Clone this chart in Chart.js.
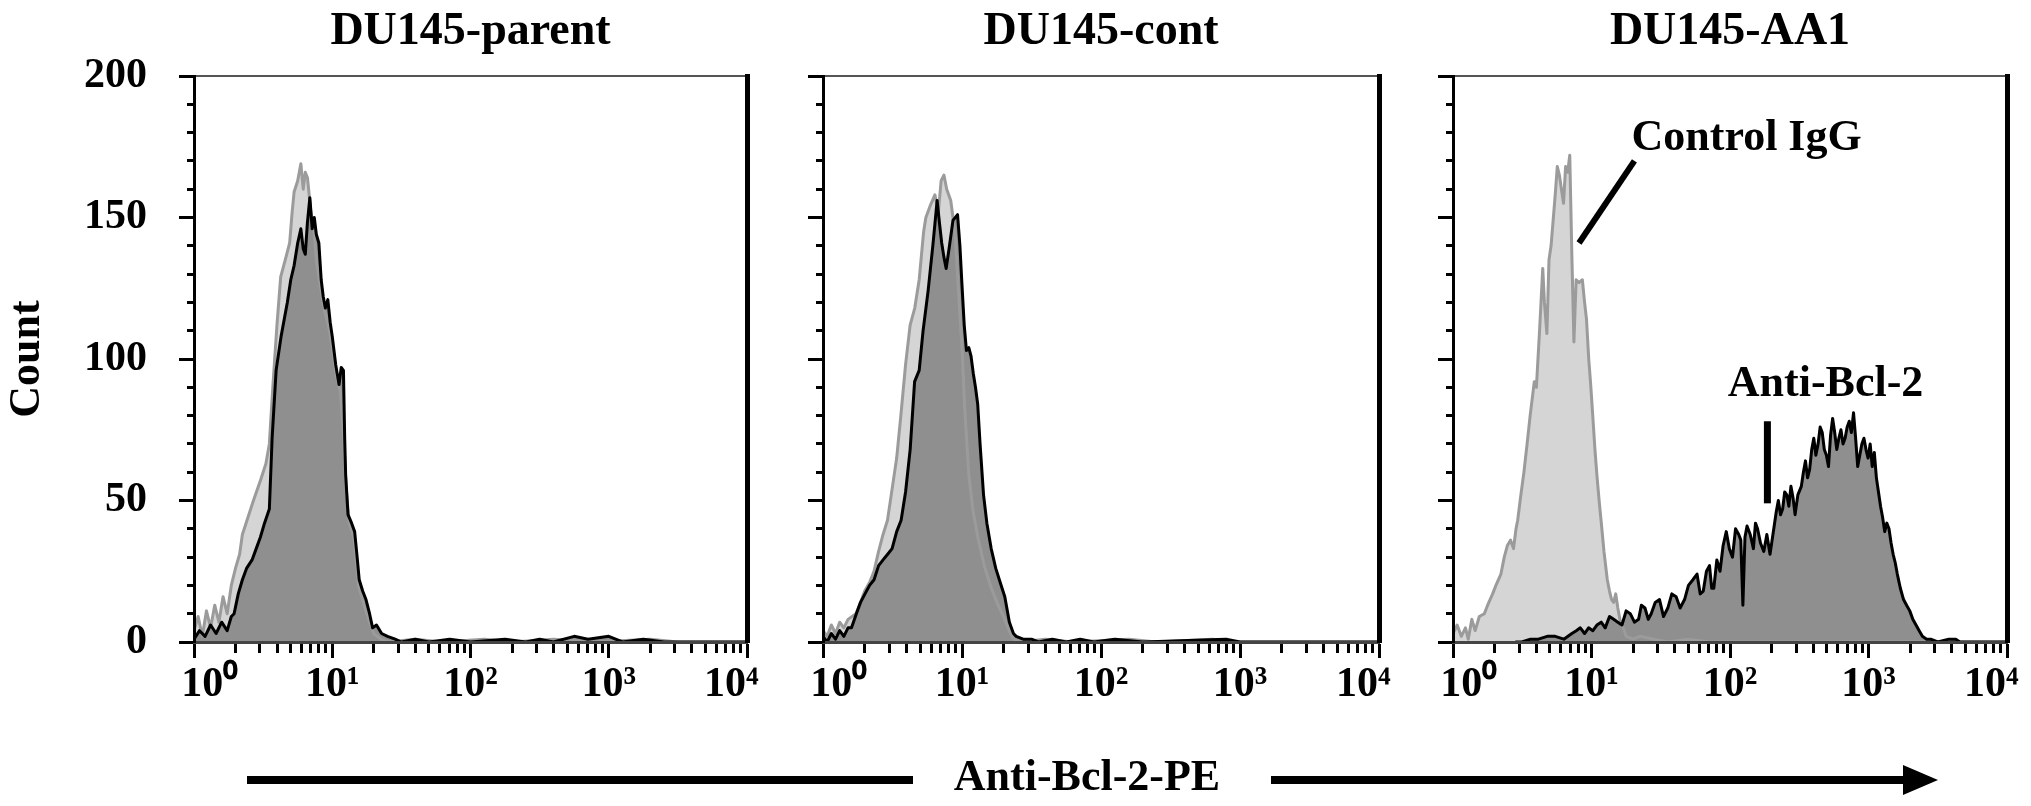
<!DOCTYPE html>
<html>
<head>
<meta charset="utf-8">
<script src="https://cdn.jsdelivr.net/npm/chart.js@4.4.1/dist/chart.umd.min.js"></script>
<style>
  body { margin: 0; background: #fff; }
  #wrap { position: relative; width: 2031px; height: 806px; overflow: hidden; background: #fff; }
  #wrap canvas, #wrap svg { position: absolute; top: 0; }
</style>
</head>
<body>
<div id="wrap">
  <canvas id="parent" width="770" height="806" style="left:0px"></canvas>
  <canvas id="cont" width="630" height="806" style="left:770px"></canvas>
  <canvas id="aa1" width="631" height="806" style="left:1400px"></canvas>
  <svg width="2031" height="806" style="left:0px">
    <line x1="247" y1="780" x2="913" y2="780" stroke="#000" stroke-width="8"/>
    <line x1="1271" y1="780" x2="1908" y2="780" stroke="#000" stroke-width="8"/>
    <polygon points="1903,765 1938,780 1903,795" fill="#000"/>
    <text x="1087" y="790" text-anchor="middle" font-family="Liberation Serif, serif" font-weight="bold" font-size="44">Anti-Bcl-2-PE</text>
  </svg>
</div>
<script>
// histogram traces: [log10 intensity, count]
const parentBcl = [[0.00,1],[0.04,4],[0.08,2],[0.12,6],[0.16,3],[0.20,7],[0.24,4],[0.27,9],[0.29,10],[0.32,17],[0.35,22],[0.38,26],[0.42,29],[0.45,33],[0.48,37],[0.51,42],[0.545,47],[0.565,72],[0.594,96],[0.63,108],[0.675,120],[0.70,128],[0.724,133],[0.75,141],[0.773,146],[0.79,139],[0.805,137],[0.82,148],[0.838,157],[0.855,146],[0.87,150],[0.885,144],[0.903,141],[0.92,128],[0.935,122],[0.95,118],[0.968,121],[0.985,113],[1.0,108],[1.025,98],[1.049,91],[1.065,97],[1.081,96],[1.09,72],[1.097,59],[1.114,45],[1.14,42],[1.162,39],[1.18,30],[1.195,22],[1.22,18],[1.244,15],[1.27,10],[1.292,5],[1.32,6],[1.357,3],[1.40,2],[1.455,1],[1.50,0],[1.60,1],[1.70,0],[1.85,1],[2.00,0],[2.25,1],[2.40,0],[2.50,1],[2.60,0],[2.75,2],[2.85,1],[3.00,2],[3.10,0],[3.25,1],[3.40,0],[4.00,0]];
const parentIgG = [[0.00,4],[0.03,9],[0.06,2],[0.09,11],[0.12,5],[0.15,13],[0.18,7],[0.21,16],[0.24,10],[0.27,20],[0.30,26],[0.33,31],[0.35,38],[0.39,44],[0.43,50],[0.48,57],[0.52,63],[0.545,70],[0.57,90],[0.60,112],[0.627,129],[0.66,135],[0.692,141],[0.71,152],[0.724,159],[0.75,163],[0.773,169],[0.79,160],[0.805,166],[0.821,164],[0.845,152],[0.87,144],[0.885,135],[0.903,129],[0.92,124],[0.94,118],[0.96,114],[0.98,110],[1.0,104],[1.03,94],[1.06,88],[1.085,70],[1.10,55],[1.12,43],[1.16,36],[1.19,20],[1.23,13],[1.27,7],[1.30,3],[1.35,1],[1.40,0],[1.60,1],[1.80,0],[2.10,1],[2.30,0],[2.60,1],[2.90,0],[3.30,1],[3.50,0],[4.00,0]];

const contBcl = [[0.00,2],[0.03,0],[0.06,3],[0.09,1],[0.12,4],[0.15,2],[0.18,5],[0.205,5],[0.24,10],[0.27,14],[0.302,17],[0.335,20],[0.367,22],[0.40,27],[0.432,29],[0.465,31],[0.497,33],[0.53,39],[0.562,43],[0.594,53],[0.627,68],[0.659,92],[0.692,96],[0.72,110],[0.756,124],[0.79,140],[0.821,156],[0.838,148],[0.854,141],[0.87,136],[0.886,132],[0.91,140],[0.935,149],[0.968,151],[0.985,140],[1.0,126],[1.016,112],[1.032,103],[1.049,104],[1.065,101],[1.081,95],[1.097,90],[1.113,84],[1.13,70],[1.155,52],[1.179,42],[1.21,33],[1.243,26],[1.275,21],[1.308,16],[1.341,7],[1.37,3],[1.39,2],[1.44,1],[1.50,1],[1.55,0],[1.65,1],[1.75,0],[1.85,1],[1.95,0],[2.10,1],[2.30,0],[2.90,1],[3.00,0],[4.00,0]];
const contIgG = [[0.00,4],[0.03,2],[0.06,6],[0.09,3],[0.12,7],[0.15,5],[0.18,8],[0.237,10],[0.27,14],[0.30,18],[0.335,21],[0.367,25],[0.40,32],[0.432,38],[0.464,43],[0.50,55],[0.53,65],[0.56,80],[0.594,98],[0.627,112],[0.66,118],[0.692,128],[0.724,145],[0.74,150],[0.77,154],[0.805,158],[0.83,152],[0.85,163],[0.87,165],[0.89,160],[0.919,156],[0.951,144],[0.97,128],[1.0,104],[1.02,82],[1.049,59],[1.08,46],[1.114,37],[1.16,27],[1.211,19],[1.26,13],[1.308,8],[1.34,4],[1.373,1],[1.42,0],[1.60,1],[1.80,0],[2.20,1],[2.40,0],[2.80,1],[2.95,0],[4.00,0]];

const aa1Bcl = [[0.45,0],[0.497,0],[0.56,1],[0.617,1],[0.68,2],[0.738,2],[0.80,1],[0.858,3],[0.89,4],[0.919,5],[0.95,3],[0.979,5],[1.01,4],[1.039,6],[1.07,7],[1.099,5],[1.13,9],[1.16,8],[1.19,7],[1.22,6],[1.25,11],[1.28,10],[1.31,7],[1.34,8],[1.36,13],[1.386,12],[1.41,8],[1.431,10],[1.46,14],[1.491,15],[1.52,9],[1.551,12],[1.58,17],[1.611,16],[1.64,12],[1.672,15],[1.70,20],[1.732,22],[1.762,24],[1.785,17],[1.807,18],[1.83,25],[1.852,27],[1.868,19],[1.883,19],[1.905,29],[1.928,25],[1.95,34],[1.973,39],[1.995,33],[2.018,30],[2.04,40],[2.063,38],[2.078,36],[2.093,13],[2.108,37],[2.123,41],[2.146,38],[2.169,33],[2.184,42],[2.199,40],[2.22,35],[2.244,32],[2.266,38],[2.289,31],[2.304,36],[2.319,41],[2.334,46],[2.349,50],[2.365,45],[2.38,47],[2.395,53],[2.41,52],[2.425,48],[2.44,55],[2.455,51],[2.47,45],[2.49,52],[2.515,55],[2.53,60],[2.545,64],[2.56,58],[2.575,61],[2.59,68],[2.605,72],[2.62,66],[2.636,70],[2.651,76],[2.666,74],[2.681,68],[2.696,66],[2.711,62],[2.726,73],[2.741,79],[2.756,74],[2.771,68],[2.786,72],[2.801,75],[2.816,70],[2.831,72],[2.846,76],[2.861,78],[2.876,74],[2.892,81],[2.907,72],[2.922,62],[2.937,66],[2.952,70],[2.967,72],[2.982,68],[2.997,65],[3.012,70],[3.027,62],[3.042,67],[3.057,58],[3.072,53],[3.087,48],[3.102,44],[3.117,39],[3.132,42],[3.148,40],[3.163,35],[3.178,31],[3.193,28],[3.208,24],[3.23,19],[3.253,15],[3.275,13],[3.298,11],[3.32,8],[3.343,6],[3.366,4],[3.389,2],[3.42,1],[3.449,1],[3.50,0],[3.58,1],[3.63,1],[3.66,0],[4.00,0]];
const aa1IgG = [[0.00,3],[0.03,6],[0.06,2],[0.09,5],[0.11,1],[0.136,8],[0.16,4],[0.19,9],[0.226,10],[0.25,13],[0.286,17],[0.31,20],[0.346,24],[0.37,30],[0.392,34],[0.415,36],[0.437,33],[0.455,40],[0.467,43],[0.49,52],[0.512,60],[0.535,70],[0.557,80],[0.587,92],[0.602,90],[0.625,110],[0.648,132],[0.66,120],[0.678,109],[0.693,135],[0.708,140],[0.723,149],[0.738,158],[0.753,168],[0.768,165],[0.783,160],[0.798,155],[0.813,168],[0.828,166],[0.843,172],[0.858,137],[0.873,106],[0.889,128],[0.91,127],[0.934,128],[0.95,120],[0.964,114],[0.98,100],[0.994,91],[1.009,80],[1.025,68],[1.039,59],[1.055,50],[1.069,43],[1.09,32],[1.114,22],[1.13,18],[1.145,15],[1.16,14],[1.175,17],[1.19,12],[1.205,8],[1.23,5],[1.25,2],[1.30,1],[1.35,2],[1.45,1],[1.55,0],[1.70,1],[1.85,0],[4.00,0]];

const panelTitles = ['DU145-parent', 'DU145-cont', 'DU145-AA1'];
const decadeTicks = [1, 10, 100, 1000, 10000];
const decadeLabels = ['10\u2070', '10\u00b9', '10\u00b2', '10\u00b3', '10\u2074'];
const minorDecadeTicks = [2,3,4,5,6,7,8,9,20,30,40,50,60,70,80,90,200,300,400,500,600,700,800,900,2000,3000,4000,5000,6000,7000,8000,9000];
const countTicks = [0, 50, 100, 150, 200];
const minorCountTicks = [10,20,30,40,60,70,80,90,110,120,130,140,160,170,180,190];

const serif = "'Liberation Serif', 'Times New Roman', serif";
const darkFill = '#8f8f8f';
const lightFill = '#d5d5d5';
const grayLine = '#9b9b9b';

function toPoints(pairs) {
  return pairs.map(p => ({ x: Math.pow(10, p[0]), y: p[1] }));
}

// panel 3 callouts
const aa1Notes = {
  id: 'aa1Notes',
  afterDatasetsDraw(chart) {
    const { ctx, scales: { x, y } } = chart;
    ctx.save();
    ctx.fillStyle = '#000';
    ctx.strokeStyle = '#000';
    ctx.font = 'bold 44px ' + serif;
    ctx.textAlign = 'center';
    ctx.textBaseline = 'alphabetic';
    ctx.fillText('Control IgG', x.getPixelForValue(Math.pow(10, 2.12)), y.getPixelForValue(174));
    ctx.fillText('Anti-Bcl-2', x.getPixelForValue(Math.pow(10, 2.69)), y.getPixelForValue(87));
    ctx.lineWidth = 6;
    ctx.beginPath();
    ctx.moveTo(x.getPixelForValue(Math.pow(10, 1.31)), y.getPixelForValue(170));
    ctx.lineTo(x.getPixelForValue(Math.pow(10, 0.91)), y.getPixelForValue(141));
    ctx.stroke();
    ctx.lineWidth = 7;
    ctx.beginPath();
    ctx.moveTo(x.getPixelForValue(Math.pow(10, 2.27)), y.getPixelForValue(78));
    ctx.lineTo(x.getPixelForValue(Math.pow(10, 2.27)), y.getPixelForValue(49));
    ctx.stroke();
    ctx.restore();
  }
};

function makePanel(id, title, bcl, igg, cfg) {
  const tickFont = { family: serif, size: 42, weight: 'bold' };
  const last = decadeLabels.length - 1;
  return new Chart(id, {
    type: 'line',
    data: {
      datasets: [
        { label: 'Anti-Bcl-2', data: toPoints(bcl), borderColor: '#000', backgroundColor: darkFill, borderWidth: 3, fill: 'origin' },
        { label: 'Control IgG', data: toPoints(igg), borderColor: grayLine, backgroundColor: lightFill, borderWidth: 3, fill: 'origin' }
      ]
    },
    options: {
      responsive: false,
      animation: false,
      events: [],
      layout: { padding: { left: 0, right: cfg.padRight, top: 0, bottom: 0 } },
      elements: { point: { radius: 0 }, line: { tension: 0, borderJoinStyle: 'round' } },
      plugins: {
        legend: { display: false },
        tooltip: { enabled: false },
        filler: { drawTime: 'beforeDatasetsDraw' },
        title: {
          display: true, text: title, fullSize: false, color: '#000',
          font: { family: serif, size: 46, weight: 'bold', lineHeight: 1 },
          padding: { top: 9, bottom: 21 }
        }
      },
      scales: {
        x: {
          type: 'logarithmic', min: 1, max: 10000, position: 'bottom', weight: 1,
          afterBuildTicks: s => { s.ticks = decadeTicks.map(v => ({ value: v })); },
          afterFit: s => { s.height = 164; s.paddingLeft = 0; s.paddingRight = 0; },
          ticks: {
            autoSkip: false, maxRotation: 0, minRotation: 0, padding: 2, color: '#000', font: tickFont,
            callback: (v, i) => i === 0 ? '   ' + decadeLabels[i] : (i === last ? decadeLabels[i] + '   ' : decadeLabels[i])
          },
          grid: { drawOnChartArea: false, drawTicks: true, tickLength: 16, tickWidth: 3, tickColor: '#000' },
          border: { color: '#444', width: 3, z: 1 }
        },
        xMinor: {
          type: 'logarithmic', min: 1, max: 10000, position: 'bottom', weight: 0,
          afterBuildTicks: s => { s.ticks = minorDecadeTicks.map(v => ({ value: v })); },
          afterFit: s => { s.height = 0; s.paddingLeft = 0; s.paddingRight = 0; },
          ticks: { display: false },
          grid: { drawOnChartArea: false, drawTicks: true, tickLength: 11, tickWidth: 3, tickColor: '#000' },
          border: { display: false }
        },
        xTop: {
          type: 'linear', min: 0, max: 1, position: 'top',
          afterFit: s => { s.height = 0; s.paddingLeft = 0; s.paddingRight = 0; },
          ticks: { display: false },
          grid: { drawOnChartArea: false, drawTicks: false },
          border: { color: '#555', width: 2, z: 1 }
        },
        y: {
          type: 'linear', min: 0, max: 200, position: 'left', weight: 1,
          afterBuildTicks: s => { s.ticks = countTicks.map(v => ({ value: v })); },
          afterFit: s => { s.width = cfg.axisWidth; s.paddingTop = 0; s.paddingBottom = 0; },
          ticks: { display: cfg.showCounts, padding: 32, color: '#000', font: tickFont },
          grid: { drawOnChartArea: false, drawTicks: true, tickLength: 15, tickWidth: 3, tickColor: '#000' },
          border: { color: '#000', width: 3, z: 1 },
          title: {
            display: cfg.showCounts, text: 'Count', color: '#000',
            font: { family: serif, size: 44, weight: 'bold', lineHeight: 1 },
            padding: { top: 6, bottom: 0 }
          }
        },
        yMinor: {
          type: 'linear', min: 0, max: 200, position: 'left', weight: 0,
          afterBuildTicks: s => { s.ticks = minorCountTicks.map(v => ({ value: v })); },
          afterFit: s => { s.width = 0; s.paddingTop = 0; s.paddingBottom = 0; },
          ticks: { display: false },
          grid: { drawOnChartArea: false, drawTicks: true, tickLength: 7, tickWidth: 3, tickColor: '#000' },
          border: { display: false }
        },
        yRight: {
          type: 'linear', min: 0, max: 200, position: 'right',
          afterFit: s => { s.width = 0; s.paddingTop = 0; s.paddingBottom = 0; },
          ticks: { display: false },
          grid: { drawOnChartArea: false, drawTicks: false },
          border: { color: '#000', width: 5, z: 1 }
        }
      }
    },
    plugins: cfg.plugins || []
  });
}

makePanel('parent', panelTitles[0], parentBcl, parentIgG, { padRight: 23, axisWidth: 194, showCounts: true });
makePanel('cont', panelTitles[1], contBcl, contIgG, { padRight: 21, axisWidth: 53, showCounts: false });
makePanel('aa1', panelTitles[2], aa1Bcl, aa1IgG, { padRight: 24, axisWidth: 53, showCounts: false, plugins: [aa1Notes] });
</script>
</body>
</html>
